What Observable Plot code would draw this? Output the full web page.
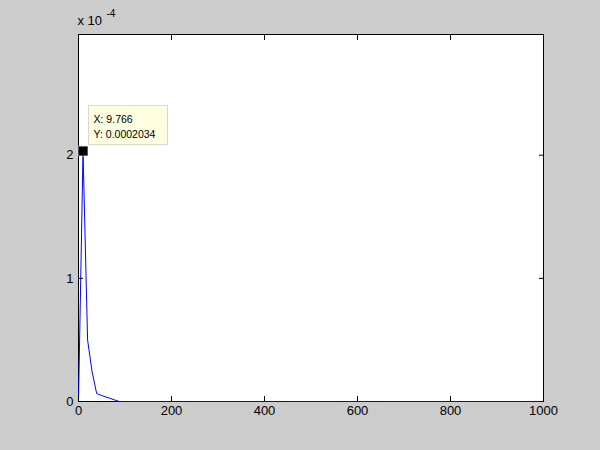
<!DOCTYPE html>
<html>
<head>
<meta charset="utf-8">
<script src="https://cdn.jsdelivr.net/npm/d3@7"></script>
<script src="https://cdn.jsdelivr.net/npm/@observablehq/plot@0.6"></script>
<style>
  html, body { margin: 0; padding: 0; background: #cccccc; }
  #chart { width: 600px; height: 450px; }
</style>
</head>
<body>
<div id="chart"></div>
<script>
// Frequency axis values (Hz) and spectrum magnitude values
const freq = [0, 9.766, 19.53, 29.30, 39.06, 48.83, 58.59, 68.36, 78.13, 87.89, 1000];
const magnitude = [0.0, 2.034e-4, 0.50e-4, 0.24e-4, 0.065e-4, 0.05e-4, 0.037e-4, 0.025e-4, 0.012e-4, 0.0, 0.0];
const xTicks = [0, 200, 400, 600, 800, 1000];
const yTicks = [0, 1e-4, 2e-4];
const yDomain = [0, 2.98e-4];
const tipPoint = {x: 9.766, y: 0.0002034};
const tipLines = ["X: 9.766", "Y: 0.0002034"];
const exponentBase = "x 10";
const exponentPower = "-4";

const data = freq.map((f, i) => ({f, m: magnitude[i]}));

const chart = Plot.plot({
  width: 600,
  height: 450,
  marginLeft: 78,
  marginRight: 57,
  marginTop: 34,
  marginBottom: 49,
  style: {background: "#cccccc", fontFamily: "'Liberation Sans', Arial, sans-serif", fontSize: "13px", color: "#000"},
  x: {domain: [0, 1000]},
  y: {domain: yDomain},
  marks: [
    Plot.frame({fill: "white", stroke: "none"}),
    Plot.frame({stroke: "#000", strokeWidth: 1}),
    Plot.line(data, {x: "f", y: "m", stroke: "#0000ff", strokeWidth: 1}),
    Plot.axisX({anchor: "bottom", ticks: xTicks, tickSize: -5, tickPadding: 9, tickFormat: d => String(d), fontSize: 13, label: null}),
    Plot.axisX({anchor: "top", ticks: xTicks, tickSize: -5, tickFormat: () => "", label: null}),
    Plot.axisY({anchor: "left", ticks: yTicks, tickSize: -5, tickPadding: 10, tickFormat: d => String(Math.round(d * 1e4)), fontSize: 13, label: null}),
    Plot.axisY({anchor: "right", ticks: yTicks, tickSize: -5, tickFormat: () => "", label: null}),
    Plot.text([exponentBase], {frameAnchor: "top-left", text: d => d, dx: -1, dy: -19, lineAnchor: "top", textAnchor: "start", fontSize: 13}),
    Plot.text([exponentPower], {frameAnchor: "top-left", text: d => d, dx: 28, dy: -25, lineAnchor: "top", textAnchor: "start", fontSize: 10}),
    Plot.dot([tipPoint], {x: "x", y: "y", symbol: "square", r: 5.5, fill: "#000", stroke: "#f0f0f0", strokeWidth: 0.5})
  ]
});

document.getElementById("chart").appendChild(chart);

// Data tip box, positioned through the plot's own scales
const sx = chart.scale("x"), sy = chart.scale("y");
const px = sx.apply(tipPoint.x), py = sy.apply(tipPoint.y);
const svg = d3.select(chart);
const g = svg.append("g");
g.append("rect")
  .attr("x", px + 6).attr("y", py - 45)
  .attr("width", 79).attr("height", 39)
  .attr("fill", "#ffffe1").attr("stroke", "#d8d8c8").attr("stroke-width", 1);
tipLines.forEach((t, i) => {
  g.append("text")
    .attr("x", px + 11).attr("y", py - 28 + i * 15)
    .attr("text-anchor", "start")
    .attr("font-family", "'Liberation Sans', Arial, sans-serif")
    .attr("font-size", 10.5).attr("fill", "#000")
    .text(t);
});
</script>
</body>
</html>
